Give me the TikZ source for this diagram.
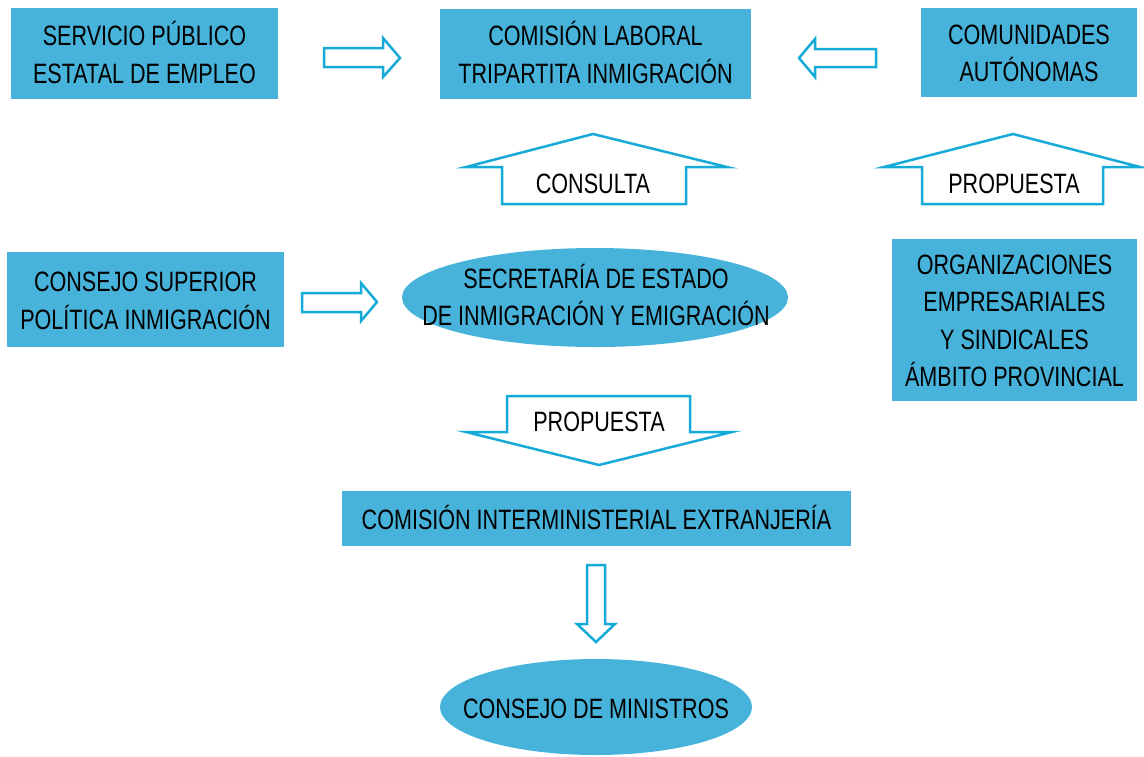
\documentclass[tikz,border=0pt]{standalone}
\usepackage{fontspec}
\setmainfont{Liberation Sans}[FakeStretch=0.77]
\definecolor{boxblue}{RGB}{71,179,219}
\definecolor{arrowblue}{RGB}{22,170,216}
\tikzset{
  lbl/.style={inner sep=0pt, align=center, font=\fontsize{28}{37.5}\selectfont, text=black},
  blockarrow/.style={draw=arrowblue, fill=white, line width=2.5pt, line join=miter},
}
\begin{document}
\begin{tikzpicture}[x=1pt,y=-1pt]
\useasboundingbox (0,0) rectangle (1144,756);
% boxes
\fill[boxblue] (11,8) rectangle (278,99);
\fill[boxblue] (440,9) rectangle (751,99);
\fill[boxblue] (921,8) rectangle (1137,97);
\fill[boxblue] (7,252) rectangle (284,347);
\fill[boxblue] (892,239) rectangle (1137,401);
\fill[boxblue] (342,491) rectangle (851,546);
\fill[boxblue] (595,297.5) ellipse [x radius=193, y radius=49.5];
\fill[boxblue] (596,707) ellipse [x radius=156, y radius=48];
% texts
\node[lbl] (spee) at (144.5,52.5) {\vphantom{Á}SERVICIO PÚBLICO\\ESTATAL DE EMPLEO};
\node[lbl] (cltri) at (595.5,52.5) {\vphantom{Á}COMISIÓN LABORAL\\TRIPARTITA INMIGRACIÓN};
\node[lbl] (ccaa) at (1029,51) {\vphantom{Á}COMUNIDADES\\AUTÓNOMAS};
\node[lbl] (cspi) at (145.5,298.5) {\vphantom{Á}CONSEJO SUPERIOR\\POLÍTICA INMIGRACIÓN};
\node[lbl] (org) at (1014.5,318.5) {\vphantom{Á}ORGANIZACIONES\\EMPRESARIALES\\Y SINDICALES\\ÁMBITO PROVINCIAL};
\node[lbl] (cie) at (596.5,517) {\vphantom{Á}COMISIÓN INTERMINISTERIAL EXTRANJERÍA};
\node[lbl] (sec) at (596,295) {\vphantom{Á}SECRETARÍA DE ESTADO\\DE INMIGRACIÓN Y EMIGRACIÓN};
\node[lbl] (cm) at (596,706) {\vphantom{Á}CONSEJO DE MINISTROS};
% block arrows
\draw[blockarrow] (324,48) -- (383,48) -- (383,38) -- (400,58) -- (383,77) -- (383,67) -- (324,67) -- cycle;
\draw[blockarrow] (876,49) -- (815,49) -- (815,39) -- (799,58) -- (815,77) -- (815,67) -- (876,67) -- cycle;
\draw[blockarrow] (302,293) -- (361,293) -- (361,283) -- (377,302) -- (361,321) -- (361,312) -- (302,312) -- cycle;
\draw[blockarrow] (502,204) -- (502,167) -- (466,167) -- (593,134) -- (727,167) -- (686,167) -- (686,204) -- cycle;
\draw[blockarrow] (922,204) -- (922,167) -- (884,167) -- (1013,134) -- (1140,167) -- (1103,167) -- (1103,204) -- cycle;
\draw[blockarrow] (507,396) -- (690,396) -- (690,432) -- (732,432) -- (599,465) -- (466,432) -- (507,432) -- cycle;
\draw[blockarrow] (587,565) -- (605,565) -- (605,624) -- (615,624) -- (596,642) -- (577,624) -- (587,624) -- cycle;
% arrow labels
\node[lbl] (consulta) at (593,183.5) {CONSULTA};
\node[lbl] (prop1) at (1014,183.5) {PROPUESTA};
\node[lbl] (prop2) at (599,422) {PROPUESTA};
\end{tikzpicture}
\end{document}
